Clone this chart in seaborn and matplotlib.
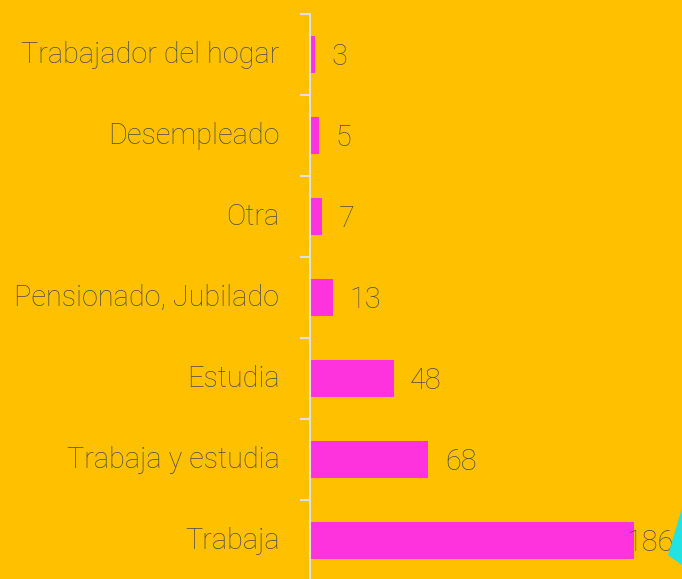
import matplotlib.pyplot as plt
import seaborn as sns
import pandas as pd
from matplotlib.patches import Polygon

categories = ["Trabajador del hogar", "Desempleado", "Otra", "Pensionado, Jubilado",
              "Estudia", "Trabaja y estudia", "Trabaja"]
counts = [3, 5, 7, 13, 48, 68, 186]

bg = "#FFC000"
bar_color = "#FF33DD"
text_color = "#4F4F4F"
axis_color = "#E0E0E0"

sns.set_style("white")
plt.rcParams["font.family"] = ["Roboto", "DejaVu Sans"]
plt.rcParams["font.weight"] = "light"

df = pd.DataFrame({"categoria": categories, "n": counts})

fig = plt.figure(figsize=(6.82, 5.79), dpi=100, facecolor=bg)
# axes placed in pixel terms: left edge at x=310, top at y=14
ax = fig.add_axes([310 / 682, (579 - 581) / 579, (682 - 310) / 682, (581 - 14) / 579])
ax.set_facecolor(bg)

sns.barplot(data=df, y="categoria", x="n", orient="h", color=bar_color,
            width=0.45, saturation=1, linewidth=0, edgecolor="none", ax=ax)

ax.set_xlim(0, 213.5)
ax.set_ylim(6.5, -0.5)
ax.set_xlabel("")
ax.set_ylabel("")
ax.set_xticks([])

for s in ["top", "right", "bottom"]:
    ax.spines[s].set_visible(False)
ax.spines["left"].set_color(axis_color)
ax.spines["left"].set_linewidth(1.5)

# ticks sit on the boundaries between categories, labels at the centers
ax.set_yticks([i - 0.5 for i in range(len(categories))], minor=False)
ax.set_yticklabels([])
ax.set_yticks([i - 0.03 for i in range(len(categories))], minor=True)
ax.set_yticklabels(categories, minor=True)
ax.tick_params(axis="y", which="major", left=True, length=7, width=1.5, color=axis_color)
ax.tick_params(axis="y", which="minor", left=False, length=0, pad=22,
               labelsize=20.8, labelcolor=text_color)

for i, v in enumerate(counts):
    ax.text(min(v + 9.5, 181.5), i + 0.03, str(v), va="center", ha="left",
            fontsize=20.8, color=text_color, fontweight="light")

# decorative cyan shape peeking in at the lower right corner
fig.patches.append(Polygon([(668 / 682, (579 - 555) / 579), (682 / 682, (579 - 508) / 579),
                            (682 / 682, (579 - 565) / 579)],
                           closed=True, transform=fig.transFigure,
                           facecolor="#22E3E3", edgecolor="none", zorder=0))

fig.savefig("out.png", dpi=100, facecolor=bg)
